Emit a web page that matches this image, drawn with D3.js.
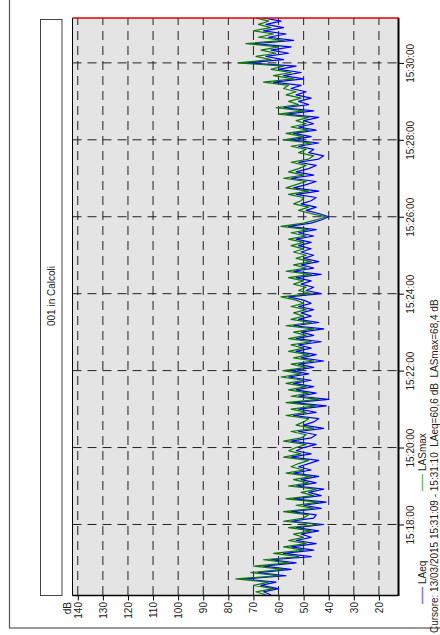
<!DOCTYPE html>
<html>
<head>
<meta charset="utf-8">
<script src="https://cdn.jsdelivr.net/npm/d3@7"></script>
<style>
  body { margin: 0; background: #fff; }
  svg { display: block; font-family: "Liberation Sans", Arial, sans-serif; }
  text { fill: #222; }
</style>
</head>
<body>
<script>
// chart is drawn turned a quarter: time runs bottom -> top, dB runs right -> left
const title = "001 in Calcoli"
const cursorText = "Cursore: 13/03/2015 15:31:09 - 15:31:10  LAeq=60,6 dB  LASmax=68,4 dB"
const startTime = "15:16:10"
const endTime = "15:31:10"
const cursorTime = "15:31:10"
const sampleStep = 5 // seconds between samples
const dbTicks = [20, 30, 40, 50, 60, 70, 80, 90, 100, 110, 120, 130, 140]
const timeTicks = ["15:18:00", "15:20:00", "15:22:00", "15:24:00", "15:26:00", "15:28:00", "15:30:00"]
const seriesNames = ["LAeq", "LASmax"]

const lasmax = [
  65, 69, 62, 70, 64, 77, 60, 71, 58, 70, 56, 66, 52, 62, 50, 58, 49, 56, 50, 54,
  47, 56, 44, 58, 50, 48, 58, 46, 53, 44, 57, 46, 51, 45, 56, 48, 54, 47, 57, 50,
  55, 52, 48, 58, 51, 56, 53, 49, 58, 51, 49, 55, 46, 53, 50, 48, 57, 49, 55, 45,
  57, 44, 55, 48, 56, 49, 57, 50, 59, 51, 58, 49, 55, 46, 54, 48, 56, 50, 55, 47,
  56, 49, 54, 46, 57, 47, 55, 50, 54, 49, 55, 50, 53, 59, 47, 52, 49, 54, 50, 56,
  47, 57, 49, 54, 47, 53, 49, 54, 50, 55, 50, 56, 49, 55, 48, 59, 50, 45, 41, 47,
  52, 48, 54, 51, 50, 56, 48, 57, 53, 49, 58, 50, 56, 52, 49, 55, 48, 46, 52, 49,
  55, 47, 58, 50, 57, 48, 55, 49, 53, 48, 60, 50, 61, 52, 56, 51, 57, 53, 58, 56,
  66, 54, 62, 55, 63, 58, 76, 63, 69, 61, 67, 60, 73, 58, 68, 62, 70, 63, 68, 64,
  69
]

const laeq = [
  63, 66, 60, 67, 61, 74, 57, 68, 55, 66, 53, 63, 47, 58, 46, 55, 45, 53, 47, 51,
  44, 53, 42, 55, 46, 45, 55, 43, 50, 41, 54, 43, 48, 42, 53, 45, 51, 44, 54, 47,
  52, 48, 44, 55, 47, 53, 50, 45, 55, 47, 45, 52, 42, 50, 46, 44, 54, 45, 52, 41,
  54, 40, 52, 45, 53, 46, 54, 47, 56, 48, 55, 46, 52, 42, 51, 45, 53, 47, 52, 43,
  53, 46, 51, 42, 54, 44, 52, 47, 51, 46, 52, 47, 50, 56, 43, 49, 46, 51, 47, 53,
  43, 54, 46, 51, 44, 50, 46, 51, 47, 52, 47, 53, 46, 52, 45, 56, 47, 43, 40, 44,
  49, 45, 51, 47, 45, 53, 44, 54, 49, 45, 55, 46, 53, 48, 45, 52, 44, 42, 48, 46,
  52, 44, 55, 47, 54, 45, 52, 46, 50, 44, 57, 46, 58, 48, 52, 47, 53, 49, 55, 51,
  62, 50, 58, 51, 60, 53, 73, 58, 65, 56, 63, 55, 70, 54, 64, 57, 66, 58, 65, 59,
  66
]

const colors = { LAeq: "#0000ff", LASmax: "#0a780a" }
const legendColors = { LAeq: "#7f7fff", LASmax: "#7cc07c" }

const W = 440, H = 635
const parseTime = d3.timeParse("%H:%M:%S")
const fmt = d3.timeFormat("%H:%M:%S")

const plot = { left: 72.5, right: 398, top: 18, bottom: 595 }

const svg = d3.select("body").append("svg").attr("width", W).attr("height", H)

// outer frame
svg.append("rect")
  .attr("x", 9.5).attr("y", -10).attr("width", 600).attr("height", 638)
  .attr("fill", "none").attr("stroke", "#555").attr("stroke-width", 1.2)

// title box
svg.append("rect")
  .attr("x", 40.5).attr("y", 19.5).attr("width", 21.5).attr("height", 576)
  .attr("fill", "#fff").attr("stroke", "#444")
svg.append("text")
  .attr("transform", "translate(54.5,296) rotate(-90)")
  .attr("text-anchor", "middle")
  .style("font-size", "10px")
  .text(title)

const x = d3.scaleLinear().domain([12.4, 142.1]).range([plot.right, plot.left])
const y = d3.scaleTime().domain([parseTime(startTime), parseTime(endTime)]).range([plot.bottom, plot.top])

svg.append("rect")
  .attr("x", plot.left).attr("y", plot.top)
  .attr("width", plot.right - plot.left).attr("height", plot.bottom - plot.top)
  .attr("fill", "#e4e4e4")

// grid
let grid = svg.append("g").attr("stroke", "#222").attr("stroke-width", 1).attr("stroke-dasharray", "9,6")
grid.selectAll(".gx").data(dbTicks).enter().append("line")
  .attr("x1", d => x(d)).attr("x2", d => x(d))
  .attr("y1", plot.bottom).attr("y2", plot.top)
grid.selectAll(".gy").data(timeTicks).enter().append("line")
  .attr("y1", d => y(parseTime(d))).attr("y2", d => y(parseTime(d)))
  .attr("x1", plot.left).attr("x2", plot.right)

// series
const t0 = parseTime(startTime)
function points(values) {
  return values.map((v, i) => ({ t: new Date(t0.getTime() + i * sampleStep * 1000), v: v }))
}
const line = d3.line().x(d => x(d.v)).y(d => y(d.t))
const seriesData = { LAeq: laeq, LASmax: lasmax }
seriesNames.forEach(name => {
  svg.append("path")
    .datum(points(seriesData[name]))
    .attr("fill", "none")
    .attr("stroke", colors[name])
    .attr("stroke-width", 1.2)
    .attr("stroke-linejoin", "round")
    .attr("d", line)
})

// borders
svg.append("line").attr("x1", plot.left).attr("x2", plot.left).attr("y1", plot.top).attr("y2", plot.bottom + 0.5)
  .attr("stroke", "#000")
svg.append("line").attr("x1", plot.left).attr("x2", plot.right).attr("y1", plot.bottom + 0.5).attr("y2", plot.bottom + 0.5)
  .attr("stroke", "#000").attr("stroke-width", 1.3)
svg.append("line").attr("x1", plot.right + 0.5).attr("x2", plot.right + 0.5).attr("y1", plot.top).attr("y2", plot.bottom + 1)
  .attr("stroke", "#000").attr("stroke-width", 2)
svg.append("line")
  .attr("x1", plot.left).attr("x2", plot.right + 1)
  .attr("y1", y(parseTime(cursorTime))).attr("y2", y(parseTime(cursorTime)))
  .attr("stroke", "#e00000").attr("stroke-width", 1.3)

// dB axis (bottom of the picture)
let dbAxis = svg.append("g")
  .attr("transform", `translate(0,${plot.bottom + 0.5})`)
  .call(d3.axisBottom(x).tickValues(dbTicks).tickSize(5).tickFormat(d3.format("d")))
dbAxis.select(".domain").remove()
dbAxis.selectAll("line").attr("stroke", "#000")
dbAxis.selectAll("text")
  .attr("transform", "rotate(-90)")
  .attr("x", -6.5).attr("y", 0).attr("dy", "0.35em")
  .attr("text-anchor", "end")
  .style("font-size", "10px").style("font-family", "Liberation Sans, Arial, sans-serif").attr("fill", "#222")
svg.append("text")
  .attr("transform", `translate(71,${plot.bottom + 7}) rotate(-90)`)
  .attr("text-anchor", "end")
  .style("font-size", "10px")
  .text("dB")

// time axis (right of the picture)
let tAxis = svg.append("g")
  .attr("transform", `translate(${plot.right + 1},0)`)
  .call(d3.axisRight(y).tickValues(timeTicks.map(parseTime)).tickSize(5).tickFormat(fmt))
tAxis.select(".domain").remove()
tAxis.selectAll("line").attr("stroke", "#000")
tAxis.selectAll("text")
  .attr("transform", "rotate(-90)")
  .attr("x", 0).attr("y", 14.5).attr("dy", 0)
  .attr("text-anchor", "middle")
  .style("font-size", "10px").style("font-family", "Liberation Sans, Arial, sans-serif").attr("fill", "#222")

// legend
const legendPos = [
  { name: "LAeq", y0: 604, y1: 587, ty: 584 },
  { name: "LASmax", y0: 491, y1: 474, ty: 471 }
]
legendPos.forEach(l => {
  svg.append("line")
    .attr("x1", 422.5).attr("x2", 422.5).attr("y1", l.y0).attr("y2", l.y1)
    .attr("stroke", legendColors[l.name]).attr("stroke-width", 1.6)
  svg.append("text")
    .attr("transform", `translate(426,${l.ty}) rotate(-90)`)
    .style("font-size", "10px")
    .text(l.name)
})

svg.append("text")
  .attr("transform", "translate(438,633) rotate(-90)")
  .style("font-size", "10px")
  .style("white-space", "pre")
  .text(cursorText)
</script>
</body>
</html>
